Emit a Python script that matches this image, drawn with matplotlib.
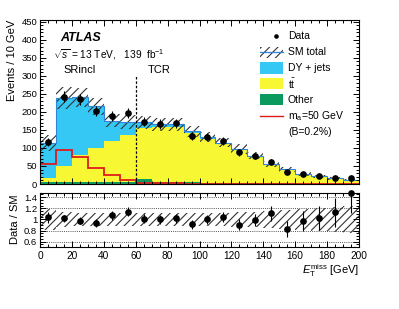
import numpy as np
import matplotlib
matplotlib.use("Agg")
import matplotlib.pyplot as plt
from matplotlib.patches import Rectangle
from matplotlib.lines import Line2D
from matplotlib.ticker import MultipleLocator

# ---------------- data ----------------
bin_lo = 0
bin_hi = 200
bin_width = 10
data = [117, 242, 235, 202, 189, 196, 173, 166, 168, 133,
        131, 120, 88, 78, 62, 34, 28, 22, 18, 16]
other = [5, 5, 5, 5, 5, 5, 13, 6, 6, 5, 4, 4, 3, 3, 2, 2, 1, 1, 1, 0.5]
ttbar = [11, 44, 75, 96, 114, 131, 143, 152, 152, 135,
         122, 107, 90, 73, 51, 37, 26, 19, 14, 9.3]
dyjets = [97, 189, 160, 115, 57, 36, 15, 8, 7, 6,
          5, 4, 4, 3, 3, 2, 2, 1.5, 1, 1]
signal = [55, 94, 74, 43, 25, 10, 4, 2, 1.5, 1,
          1, 0.5, 0.5, 0.5, 0.3, 0.3, 0.2, 0.2, 0.1, 0.1]
rel_unc = [0.19, 0.13, 0.11, 0.11, 0.11, 0.11, 0.11, 0.11, 0.11, 0.11,
           0.11, 0.12, 0.13, 0.14, 0.15, 0.17, 0.19, 0.21, 0.23, 0.25]
region_cut = 60
x_ticks = [0, 20, 40, 60, 80, 100, 120, 140, 160, 180, 200]
y_ticks_main = [0, 50, 100, 150, 200, 250, 300, 350, 400, 450]
y_ticks_ratio = [0.6, 0.8, 1.0, 1.2, 1.4]
y_tick_labels_ratio = ["0.6", "0.8", "1", "1.2", "1.4"]

# ---------------- style ----------------
plt.rcParams['font.family'] = ['Liberation Sans', 'DejaVu Sans']
plt.rcParams['mathtext.fontset'] = 'custom'
plt.rcParams['mathtext.rm'] = 'Liberation Sans'
plt.rcParams['mathtext.it'] = 'Liberation Sans:italic'
plt.rcParams['mathtext.bf'] = 'Liberation Sans:bold'
plt.rcParams['hatch.linewidth'] = 0.8

C_DY = '#35c8f5'
C_TT = '#f7f733'
C_OT = '#0b9a5e'
C_SIG = '#dd1c1c'
C_SM = '#2f86d8'
C_HATCH = '#333333'

edges = np.arange(bin_lo, bin_hi + bin_width, bin_width)
centers = 0.5 * (edges[:-1] + edges[1:])
data = np.array(data, float)
other = np.array(other, float)
ttbar = np.array(ttbar, float)
dyjets = np.array(dyjets, float)
signal = np.array(signal, float)
rel_unc = np.array(rel_unc, float)

c1 = other
c2 = other + ttbar
sm = c2 + dyjets
unc = sm * rel_unc
derr = np.sqrt(data)

W, H = 399, 309
fig = plt.figure(figsize=(W / 100, H / 100), dpi=100)

def fx(px):
    return px / W

def fy(py):
    return 1 - py / H

ax = fig.add_axes([fx(40), fy(184), fx(359) - fx(40), fy(19.5) - fy(184)])
rx = fig.add_axes([fx(40), fy(246.7), fx(359) - fx(40), fy(192.7) - fy(246.7)])

# ---------------- main panel ----------------
ax.stairs(c1, edges, baseline=0, fill=True, color=C_OT, lw=0)
ax.stairs(c2, edges, baseline=c1, fill=True, color=C_TT, lw=0)
ax.stairs(sm, edges, baseline=c2, fill=True, color=C_DY, lw=0)
ax.stairs(sm + unc, edges, baseline=sm - unc, fill=True, facecolor='none',
          edgecolor=C_HATCH, hatch='////', lw=0)
ax.stairs(sm, edges, baseline=None, color=C_SM, lw=0.8)
ax.stairs(signal, edges, baseline=None, color=C_SIG, lw=1.3)
ax.errorbar(centers, data, yerr=derr, fmt='o', color='black', ms=3.8,
            elinewidth=0.8, capsize=0, zorder=5)
ax.plot([region_cut, region_cut], [0, 300], ls=(0, (2, 1.5)), color='black', lw=0.9)

ax.set_xlim(bin_lo, bin_hi)
ax.set_ylim(0, 456)
ax.set_xticks(x_ticks)
ax.set_xticklabels([])
ax.set_yticks(y_ticks_main)
ax.xaxis.set_minor_locator(MultipleLocator(5))
ax.yaxis.set_minor_locator(MultipleLocator(10))
ax.set_ylabel('Events / 10 GeV', fontsize=8, loc='top', labelpad=3)

for a in (ax, rx):
    a.tick_params(which='both', direction='in', top=True, right=True,
                  labelsize=6.8, width=0.7, pad=2)
    a.tick_params(which='major', length=4)
    a.tick_params(which='minor', length=2)
    for s in a.spines.values():
        s.set_linewidth(0.8)

ax.text(0.065, 0.885, 'ATLAS', transform=ax.transAxes, fontsize=9,
        fontweight='bold', fontstyle='italic', va='center')
ax.text(0.04, 0.785, r'$\sqrt{s}$ = 13 TeV,   139  fb$^{-1}$',
        transform=ax.transAxes, fontsize=7.3, va='center')
ax.text(25, 315, 'SRincl', fontsize=8, ha='center', va='center')
ax.text(75, 315, 'TCR', fontsize=8, ha='center', va='center')

# ---------------- legend (manual, ROOT style) ----------------
lx0, lx1, tx = 260, 283.3, 288
rows = [36.3, 52, 68, 84, 99.7, 116.3, 132]
sw_h = 11
fs_leg = 7.5
fig.add_artist(Line2D([fx(276)], [fy(rows[0])], marker='o', ms=2.3, color='black',
                      transform=fig.transFigure))
fig.add_artist(Rectangle((fx(lx0), fy(rows[1] + sw_h / 2)), fx(lx1) - fx(lx0), sw_h / H,
                         transform=fig.transFigure, facecolor='none', edgecolor=C_HATCH,
                         hatch='////', lw=0))
fig.add_artist(Line2D([fx(lx0), fx(lx1)], [fy(rows[1]), fy(rows[1])], color=C_SM, lw=0.9,
                      transform=fig.transFigure))
for r, col in zip(rows[2:5], [C_DY, C_TT, C_OT]):
    fig.add_artist(Rectangle((fx(lx0), fy(r + sw_h / 2)), fx(lx1) - fx(lx0), sw_h / H,
                             transform=fig.transFigure, facecolor=col, lw=0))
fig.add_artist(Line2D([fx(lx0), fx(lx1)], [fy(rows[5]), fy(rows[5])], color=C_SIG, lw=1.0,
                      transform=fig.transFigure))
labels = ['Data', 'SM total', 'DY + jets', r'$\mathrm{t}\bar{\mathrm{t}}$', 'Other',
          r'm$_{\mathrm{a}}$=50 GeV', '(B=0.2%)']
for r, lab in zip(rows, labels):
    fig.text(fx(tx), fy(r), lab, fontsize=fs_leg, va='center', ha='left')

# ---------------- ratio panel ----------------
ratio = data / sm
rerr = derr / sm
rx.stairs(1 + rel_unc, edges, baseline=1 - rel_unc, fill=True, facecolor='none',
          edgecolor=C_HATCH, hatch='////', lw=0)
for g in [0.6, 0.8, 1.2, 1.4]:
    rx.axhline(g, color='#555555', ls=(0, (1, 1.2)), lw=0.7, zorder=1)
eb = rx.errorbar(centers, ratio, yerr=rerr, fmt='o', color='black', ms=3.8,
                 elinewidth=0.8, capsize=0, zorder=5)
eb[0].set_clip_on(False)
rx.set_xlim(bin_lo, bin_hi)
rx.set_ylim(0.51, 1.48)
rx.set_xticks(x_ticks)
rx.set_yticks(y_ticks_ratio)
rx.set_yticklabels(y_tick_labels_ratio)
rx.xaxis.set_minor_locator(MultipleLocator(5))
rx.yaxis.set_minor_locator(MultipleLocator(0.05))
rx.tick_params(axis='x', labelsize=7.3, pad=3)
rx.set_ylabel('Data / SM', fontsize=8, labelpad=3)
rx.set_xlabel(r'$E_{\mathrm{T}}^{\mathrm{miss}}$ [GeV]', fontsize=8, loc='right', labelpad=1)

fig.savefig('out.png', dpi=100)
